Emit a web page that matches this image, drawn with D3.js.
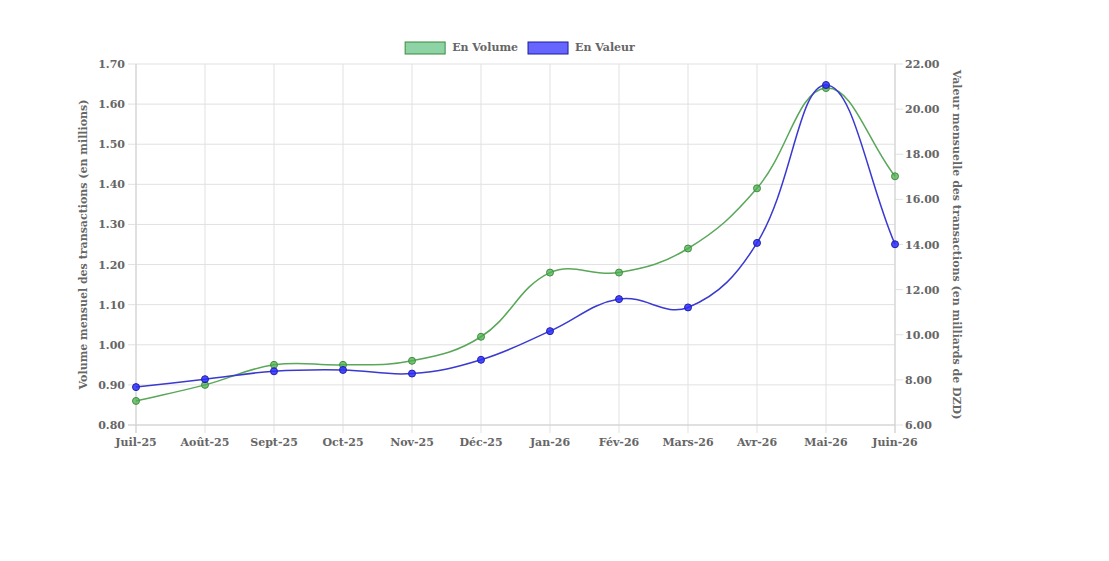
<!DOCTYPE html>
<html>
<head>
<meta charset="utf-8">
<script src="https://cdn.jsdelivr.net/npm/d3@7"></script>
<style>
  body { margin: 0; background: #fff; }
  text { font-family: "DejaVu Serif", serif; font-weight: bold; fill: #666; }
</style>
</head>
<body>
<svg id="chart"></svg>
<script>
// ---- data ----
const months = ["Juil-25", "Août-25", "Sept-25", "Oct-25", "Nov-25", "Déc-25",
  "Jan-26", "Fév-26", "Mars-26", "Avr-26", "Mai-26", "Juin-26"];
const volume = [0.86, 0.90, 0.95, 0.95, 0.96, 1.02, 1.18, 1.18, 1.24, 1.39, 1.64, 1.42];
const valeur = [7.68, 8.03, 8.38, 8.44, 8.28, 8.89, 10.16, 11.58, 11.21, 14.07, 21.07, 14.01];
const leftTicks = [0.8, 0.9, 1.0, 1.1, 1.2, 1.3, 1.4, 1.5, 1.6, 1.7];
const rightTicks = [6, 8, 10, 12, 14, 16, 18, 20, 22];

const width = 1109,
  height = 561;
const plotL = 136, plotR = 895, plotT = 64, plotB = 425;

const svg = d3.select("#chart").attr("width", width).attr("height", height);

const x = d3.scalePoint().domain(months).range([plotL, plotR]);
const yL = d3.scaleLinear().domain([0.8, 1.7]).range([plotB, plotT]);
const yR = d3.scaleLinear().domain([6, 22]).range([plotB, plotT]);

// grid
const grid = svg.append("g");
grid.selectAll(".vg").data(months).enter().append("line")
  .attr("x1", d => x(d)).attr("x2", d => x(d))
  .attr("y1", plotT).attr("y2", plotB + 8)
  .attr("stroke", "#e1e1e1");
grid.selectAll(".hg").data(leftTicks).enter().append("line")
  .attr("x1", plotL - 8).attr("x2", plotR)
  .attr("y1", d => yL(d)).attr("y2", d => yL(d))
  .attr("stroke", "#e1e1e1");
// right ticks
grid.selectAll(".rt").data(rightTicks).enter().append("line")
  .attr("x1", plotR).attr("x2", plotR + 8)
  .attr("y1", d => yR(d)).attr("y2", d => yR(d))
  .attr("stroke", "#e1e1e1");
// axis borders
grid.append("line").attr("x1", plotL).attr("x2", plotL).attr("y1", plotT).attr("y2", plotB + 8).attr("stroke", "#d0d0d0");
grid.append("line").attr("x1", plotR).attr("x2", plotR).attr("y1", plotT).attr("y2", plotB + 8).attr("stroke", "#d0d0d0");
grid.append("line").attr("x1", plotL - 8).attr("x2", plotR).attr("y1", plotB).attr("y2", plotB).attr("stroke", "#d0d0d0");

// tick labels
svg.selectAll(".lt").data(leftTicks).enter().append("text")
  .attr("x", plotL - 11).attr("y", d => yL(d) + 4)
  .attr("text-anchor", "end").style("font-size", "11px")
  .text(d => d.toFixed(2));
svg.selectAll(".rtl").data(rightTicks).enter().append("text")
  .attr("x", plotR + 10).attr("y", d => yR(d) + 4)
  .attr("text-anchor", "start").style("font-size", "11px")
  .text(d => d.toFixed(2));
svg.selectAll(".xt").data(months).enter().append("text")
  .attr("x", d => x(d)).attr("y", 446)
  .attr("text-anchor", "middle").style("font-size", "11px")
  .text(d => d);

// axis titles
svg.append("text")
  .attr("transform", "translate(87," + (plotT + plotB) / 2 + ") rotate(-90)")
  .attr("text-anchor", "middle").style("font-size", "11px")
  .text("Volume mensuel des transactions (en millions)");
svg.append("text")
  .attr("transform", "translate(953," + (plotT + plotB) / 2 + ") rotate(90)")
  .attr("text-anchor", "middle").style("font-size", "11px")
  .text("Valeur mensuelle des transactions (en milliards de DZD)");

// chart.js style spline (tension 0.4)
function splinePath(pts, t) {
  const cps = pts.map((c, i) => {
    const p = pts[i - 1] || c, n = pts[i + 1] || c;
    const d01 = Math.hypot(c[0] - p[0], c[1] - p[1]);
    const d12 = Math.hypot(n[0] - c[0], n[1] - c[1]);
    let s01 = d01 / (d01 + d12), s12 = d12 / (d01 + d12);
    if (isNaN(s01)) s01 = 0;
    if (isNaN(s12)) s12 = 0;
    const fa = t * s01, fb = t * s12;
    const clampY = v => Math.max(plotT, Math.min(plotB, v));
    return {
      prev: [c[0] - fa * (n[0] - p[0]), clampY(c[1] - fa * (n[1] - p[1]))],
      next: [c[0] + fb * (n[0] - p[0]), clampY(c[1] + fb * (n[1] - p[1]))]
    };
  });
  const path = d3.path();
  path.moveTo(pts[0][0], pts[0][1]);
  for (let i = 1; i < pts.length; i++) {
    path.bezierCurveTo(cps[i - 1].next[0], cps[i - 1].next[1],
      cps[i].prev[0], cps[i].prev[1], pts[i][0], pts[i][1]);
  }
  return path.toString();
}

const series = [
  { values: volume, y: yL, line: "#5aa75a", fill: "rgba(76,175,80,0.75)", stroke: "#3f8f3f" },
  { values: valeur, y: yR, line: "#3a3ad0", fill: "rgba(45,45,255,0.85)", stroke: "#2020a8" }
];

series.forEach(s => {
  const pts = s.values.map((v, i) => [x(months[i]), s.y(v)]);
  svg.append("path")
    .attr("d", splinePath(pts, 0.4))
    .attr("fill", "none")
    .attr("stroke", s.line)
    .attr("stroke-width", 1.5);
  svg.append("g").selectAll("circle").data(pts).enter().append("circle")
    .attr("cx", d => d[0]).attr("cy", d => d[1]).attr("r", 3.5)
    .attr("fill", s.fill).attr("stroke", s.stroke).attr("stroke-width", 1);
});

// legend
const legendItems = [
  { label: "En Volume", fill: "#8ed3a6", stroke: "#3a8a3a" },
  { label: "En Valeur", fill: "#6666ff", stroke: "#1c1c99" }
];
const legend = svg.append("g");
let lx = 0;
legendItems.forEach(it => {
  const g = legend.append("g").attr("transform", "translate(" + lx + ",0)");
  g.append("rect").attr("x", 0).attr("y", 42).attr("width", 40).attr("height", 12)
    .attr("fill", it.fill).attr("stroke", it.stroke).attr("stroke-width", 1);
  const t = g.append("text").attr("x", 47).attr("y", 51).style("font-size", "11px").text(it.label);
  lx += 47 + t.node().getComputedTextLength() + 10;
});
const lw = lx - 10;
legend.attr("transform", "translate(" + (520 - lw / 2) + ",0)");
</script>
</body>
</html>
